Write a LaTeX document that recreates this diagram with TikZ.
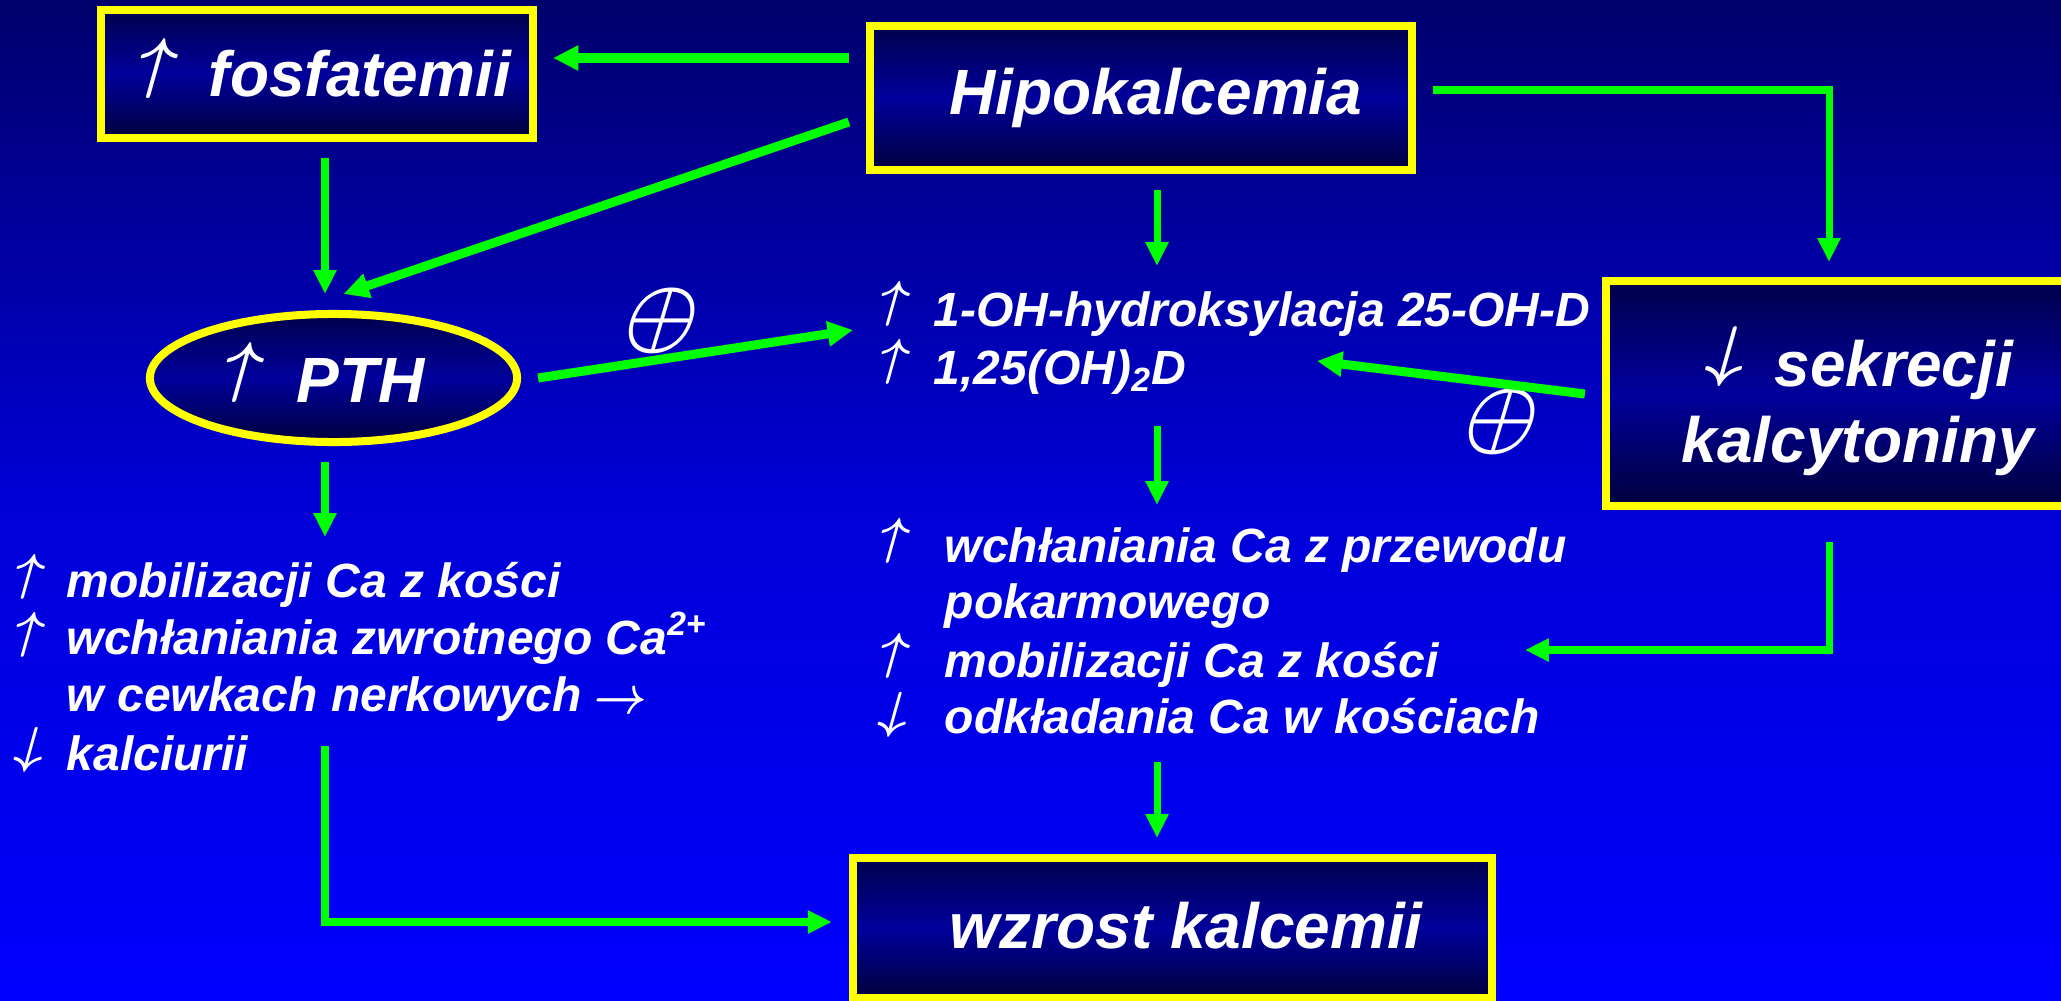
\documentclass[tikz,border=0pt]{standalone}
\usepackage{fontspec}
\setmainfont{Liberation Sans}
\usetikzlibrary{shapes.geometric,arrows.meta,calc}

\definecolor{bgtop}{HTML}{00006C}
\definecolor{bgmid}{HTML}{0000D6}
\definecolor{bgbot}{HTML}{0000FF}
\definecolor{boxdark}{HTML}{00004C}
\definecolor{boxmid}{HTML}{00009C}
\definecolor{boxdeep}{HTML}{00003C}
\definecolor{frameyellow}{HTML}{FFFF00}
\definecolor{linkgreen}{HTML}{00FF00}

\newcommand{\gup}{{\boldmath$\uparrow$}}
\newcommand{\gdown}{{\boldmath$\downarrow$}}
\newcommand{\gright}{{\boldmath$\rightarrow$}}
\newcommand{\gplus}{{\boldmath$\oplus$}}

\begin{document}
\begin{tikzpicture}[x=0.01cm,y=-0.01cm,
  box/.style={rectangle, draw=frameyellow, line width=2.28pt, inner sep=0pt,
    top color=boxdark, bottom color=boxdeep, middle color=boxmid},
  ovalbox/.style={ellipse, draw=frameyellow, line width=2.28pt, inner sep=0pt,
    top color=boxdark, bottom color=boxdeep, middle color=boxmid},
  title/.style={text=white, font=\fontsize{18.2pt}{22pt}\selectfont\bfseries\itshape,
    inner sep=0pt, anchor=base west},
  body/.style={text=white, font=\fontsize{13.66pt}{16pt}\selectfont\bfseries\itshape,
    inner sep=0pt, anchor=base west},
  glyph/.style={text=white, inner sep=0pt, outer sep=0pt, transform shape},
  bigarrow/.style={glyph, xslant=0.28, xscale=1.9, yscale=1.92},
  smallarrow/.style={glyph, xslant=0.28, xscale=1.45, yscale=1.44},
  plussign/.style={glyph, xslant=0.3, xscale=2.3, yscale=2.45},
  link/.style={draw=linkgreen, line width=2pt, -{Triangle[length=6.8pt,width=6.2pt]}},
  boldlink/.style={draw=linkgreen, line width=2.56pt, -{Triangle[length=7.2pt,width=6.8pt]}},
]
\useasboundingbox (0,0) rectangle (2061,1000);
% background
\fill[top color=bgtop, bottom color=bgbot, middle color=bgmid] (0,0) rectangle (2061,1000);

% framed boxes
\node[box, minimum width=4.32cm, minimum height=1.28cm] (fos) at (317,74) {};
\node[box, minimum width=5.42cm, minimum height=1.44cm] (hipo) at (1141,98) {};
\node[box, minimum width=4.64cm, minimum height=2.25cm] (sek) at (1838,393.5) {};
\node[box, minimum width=6.39cm, minimum height=1.40cm] (wz) at (1172.5,928) {};
\node[ovalbox, minimum width=3.67cm, minimum height=1.28cm] (pth) at (333.5,378) {};

% box titles
\node[shift={(148,99)}, bigarrow, anchor=south] (fosUp) at (0,0) {\gup};
\node[title] (fosT) at (208,97) {fosfatemii};
\node[title] (hipoT) at (949,114) {Hipokalcemia};
\node[shift={(1736,327)}, bigarrow, anchor=north] (sekDown) at (0,0) {\gdown};
\node[title] (sekT) at (1774,386) {sekrecji};
\node[title] (kalT) at (1681,462) {kalcytoniny};
\node[title] (wzT) at (949,948) {wzrost kalcemii};
\node[shift={(234,403)}, bigarrow, anchor=south] (pthUp) at (0,0) {\gup};
\node[title] (pthT) at (296,402) {PTH};

% left list
\node[shift={(22,599)}, smallarrow, anchor=south] (lA) at (0,0) {\gup};
\node[body] (mobA) at (66,597) {mobilizacji Ca z kości};
\node[shift={(22,657)}, smallarrow, anchor=south] (lB) at (0,0) {\gup};
\node[body] (wzw) at (66,654) {wchłaniania zwrotnego Ca\textsuperscript{2+}};
\node[body] (cew) at (66,711) {w cewkach nerkowych};
\node[shift={(594,703)}, glyph, xslant=0.2, xscale=1.31, yscale=1.5, anchor=west] (lArr) at (0,0) {\gright};
\node[shift={(37,727)}, smallarrow, anchor=north] (lC) at (0,0) {\gdown};
\node[body] (kalc) at (66,770) {kalciurii};

% middle list, vitamin D
\node[shift={(887,326)}, smallarrow, anchor=south] (mA) at (0,0) {\gup};
\node[body] (ohA) at (933,326) {1-OH-hydroksylacja 25-OH-D};
\node[shift={(887,384)}, smallarrow, anchor=south] (mB) at (0,0) {\gup};
\node[body] (ohB) at (933,384) {1,25(OH)\textsubscript{2}D};

% middle list, calcium effects
\node[shift={(887,563)}, smallarrow, anchor=south] (nA) at (0,0) {\gup};
\node[body] (wchA) at (944,562) {wchłaniania Ca z przewodu};
\node[body] (pok) at (944,618) {pokarmowego};
\node[shift={(887,678)}, smallarrow, anchor=south] (nB) at (0,0) {\gup};
\node[body] (mobB) at (944,677) {mobilizacji Ca z kości};
\node[shift={(901,692)}, smallarrow, anchor=north] (nC) at (0,0) {\gdown};
\node[body] (odk) at (944,733) {odkładania Ca w kościach};

% stimulation marks
\node[shift={(662,321)}, plussign] (plusA) at (0,0) {\gplus};
\node[shift={(1502,422)}, plussign] (plusB) at (0,0) {\gplus};

% connectors
\draw[boldlink] ($(hipo.west)+(-17,-40)$) -- ($(fos.east)+(16,-16)$);
\draw[boldlink] ($(hipo.west)+(-17,24)$) -- ($(pth.north)+(10,-16)$);
\draw[link] ($(fos.south)+(8,16)$) -- ($(pth.north)+(-8.5,-16)$);
\draw[boldlink] ($(pth.east)+(17,0)$) -- ($(ohA.base west)+(-80,4)$);
\draw[link] ($(hipo.south)+(16,16)$) -- ($(ohA.base west)+(224,-60)$);
\draw[link] ($(hipo.east)+(17,-8)$) -| ($(sek.north)+(-9,-15)$);
\draw[boldlink] ($(sek.west)+(-17,0.5)$) -- ($(ohB.base west)+(384,-23)$);
\draw[link] ($(ohB.base west)+(224,42)$) -- ($(wchA.base west)+(213,-57)$);
\draw[link] ($(sek.south)+(-9,32)$) |- ($(mobB.base west)+(581,-27)$);
\draw[link] ($(odk.base west)+(213,29)$) -- ($(wz.north)+(-15.5,-16)$);
\draw[link] ($(pth.south)+(-8.5,16)$) -- ($(mobA.base west)+(259,-60)$);
\draw[link] ($(kalc.base west)+(259,-24)$) |- ($(wz.west)+(-17,-6)$);
\end{tikzpicture}
\end{document}
